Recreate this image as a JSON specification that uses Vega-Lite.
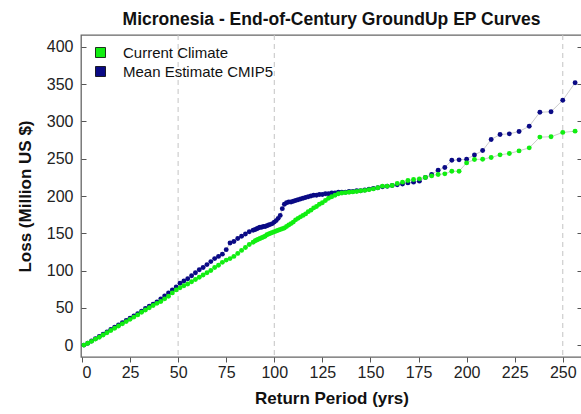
{
  "$schema": "https://vega.github.io/schema/vega-lite/v6.json",
  "width": 501,
  "height": 322,
  "autosize": {"type": "none"},
  "padding": {"left": 81, "top": 35, "right": 0, "bottom": 57},
  "background": "white",
  "title": {"text": "Micronesia - End-of-Century GroundUp EP Curves", "font": "Liberation Sans", "fontSize": 17.5, "fontWeight": "bold", "color": "#111111", "anchor": "middle", "offset": 6},
  "config": {
    "view": {"stroke": "#666666", "strokeWidth": 1.3},
    "font": "Liberation Sans",
    "axis": {"labelFont": "Liberation Sans", "titleFont": "Liberation Sans", "labelColor": "#222222", "titleColor": "#111111", "tickColor": "#555555", "domain": false, "grid": false, "labelFontSize": 16, "titleFontSize": 17, "titleFontWeight": "bold"},
    "axisX": {"tickSize": 5, "labelPadding": 2, "titlePadding": 10},
    "axisY": {"tickSize": -5, "labelPadding": 13, "titlePadding": 12},
    "legend": {"orient": "none", "legendX": 12, "legendY": 10, "padding": 0, "symbolType": "square", "symbolSize": 100, "symbolStrokeColor": "#000000", "symbolStrokeWidth": 0.8, "labelFontSize": 15, "labelFont": "Liberation Sans", "labelColor": "#111111", "labelOffset": 15, "rowPadding": 3}
  },
  "datasets": {
    "gridmarks": [{"rp": 50}, {"rp": 100}, {"rp": 250}],
    "cmip5": [
      {"rp": 1, "loss": 0}, {"rp": 3, "loss": 2.5}, {"rp": 5, "loss": 5.5}, {"rp": 7, "loss": 8.5}, {"rp": 9, "loss": 11.5}, {"rp": 11, "loss": 14.5}, {"rp": 13, "loss": 17.5}, {"rp": 15, "loss": 21}, {"rp": 17, "loss": 24}, {"rp": 19, "loss": 27}, {"rp": 21, "loss": 30}, {"rp": 23, "loss": 33}, {"rp": 25, "loss": 36}, {"rp": 27, "loss": 39}, {"rp": 29, "loss": 42}, {"rp": 31, "loss": 45.5}, {"rp": 33, "loss": 49}, {"rp": 35, "loss": 52}, {"rp": 37, "loss": 55}, {"rp": 39, "loss": 58}, {"rp": 41, "loss": 62}, {"rp": 43, "loss": 66}, {"rp": 45, "loss": 70}, {"rp": 47, "loss": 74}, {"rp": 49, "loss": 78}, {"rp": 51, "loss": 83}, {"rp": 53, "loss": 86}, {"rp": 55, "loss": 89}, {"rp": 57, "loss": 93}, {"rp": 59, "loss": 97}, {"rp": 61, "loss": 101}, {"rp": 63, "loss": 104}, {"rp": 65, "loss": 108}, {"rp": 67, "loss": 112}, {"rp": 69, "loss": 116}, {"rp": 71, "loss": 119}, {"rp": 73, "loss": 122}, {"rp": 75, "loss": 128}, {"rp": 77, "loss": 137}, {"rp": 79, "loss": 139}, {"rp": 81, "loss": 143}, {"rp": 83, "loss": 146}, {"rp": 85, "loss": 149}, {"rp": 87, "loss": 152}, {"rp": 89, "loss": 154},
      {"rp": 90.09, "loss": 155}, {"rp": 90.91, "loss": 156}, {"rp": 91.74, "loss": 157}, {"rp": 92.59, "loss": 158}, {"rp": 93.46, "loss": 158}, {"rp": 94.34, "loss": 159}, {"rp": 95.24, "loss": 159}, {"rp": 96.15, "loss": 160}, {"rp": 97.09, "loss": 161}, {"rp": 98.04, "loss": 162}, {"rp": 99.01, "loss": 163}, {"rp": 100, "loss": 165}, {"rp": 101.01, "loss": 167}, {"rp": 102.04, "loss": 170}, {"rp": 103.09, "loss": 174}, {"rp": 104.17, "loss": 183}, {"rp": 105.26, "loss": 189}, {"rp": 106.38, "loss": 191}, {"rp": 107.53, "loss": 192}, {"rp": 108.7, "loss": 192}, {"rp": 109.89, "loss": 193}, {"rp": 111.11, "loss": 194}, {"rp": 112.36, "loss": 195}, {"rp": 113.64, "loss": 196}, {"rp": 114.94, "loss": 197}, {"rp": 116.28, "loss": 198}, {"rp": 117.65, "loss": 199}, {"rp": 119.05, "loss": 200}, {"rp": 120.48, "loss": 201}, {"rp": 121.95, "loss": 201}, {"rp": 123.46, "loss": 202}, {"rp": 125, "loss": 202}, {"rp": 126.58, "loss": 203}, {"rp": 128.21, "loss": 203}, {"rp": 129.87, "loss": 204}, {"rp": 131.58, "loss": 204}, {"rp": 133.33, "loss": 205}, {"rp": 135.14, "loss": 205}, {"rp": 136.99, "loss": 205}, {"rp": 138.89, "loss": 206}, {"rp": 140.85, "loss": 206}, {"rp": 142.86, "loss": 207}, {"rp": 144.93, "loss": 207}, {"rp": 147.06, "loss": 208}, {"rp": 149.25, "loss": 209}, {"rp": 151.52, "loss": 210}, {"rp": 153.85, "loss": 211},
      {"rp": 156.25, "loss": 212.5}, {"rp": 158.73, "loss": 213}, {"rp": 161.29, "loss": 214}, {"rp": 163.93, "loss": 215}, {"rp": 166.67, "loss": 216}, {"rp": 169.49, "loss": 217.6}, {"rp": 172.41, "loss": 218.6}, {"rp": 175.44, "loss": 219.9}, {"rp": 178.57, "loss": 224.9}, {"rp": 181.82, "loss": 229}, {"rp": 185.19, "loss": 234.6}, {"rp": 188.68, "loss": 238.3}, {"rp": 192.31, "loss": 248}, {"rp": 196.08, "loss": 248.5}, {"rp": 200, "loss": 249.4}, {"rp": 204.08, "loss": 255}, {"rp": 208.33, "loss": 261}, {"rp": 212.77, "loss": 275.8}, {"rp": 217.39, "loss": 282.5}, {"rp": 222.22, "loss": 283.4}, {"rp": 227.27, "loss": 286.5}, {"rp": 232.56, "loss": 293.6}, {"rp": 238.1, "loss": 312.4}, {"rp": 243.9, "loss": 313}, {"rp": 250, "loss": 328.5}, {"rp": 256.41, "loss": 352}
    ],
    "current": [
      {"rp": 1, "loss": 0}, {"rp": 3, "loss": 2.5}, {"rp": 5, "loss": 5}, {"rp": 7, "loss": 8}, {"rp": 9, "loss": 10.5}, {"rp": 11, "loss": 13.5}, {"rp": 13, "loss": 16.5}, {"rp": 15, "loss": 19.5}, {"rp": 17, "loss": 22.5}, {"rp": 19, "loss": 25.5}, {"rp": 21, "loss": 28.5}, {"rp": 23, "loss": 31.5}, {"rp": 25, "loss": 34.5}, {"rp": 27, "loss": 37.5}, {"rp": 29, "loss": 40.5}, {"rp": 31, "loss": 44}, {"rp": 33, "loss": 47}, {"rp": 35, "loss": 50}, {"rp": 37, "loss": 53}, {"rp": 39, "loss": 56}, {"rp": 41, "loss": 58.5}, {"rp": 43, "loss": 62}, {"rp": 45, "loss": 65.5}, {"rp": 47, "loss": 70}, {"rp": 49, "loss": 74}, {"rp": 51, "loss": 77}, {"rp": 53, "loss": 79.5}, {"rp": 55, "loss": 82}, {"rp": 57, "loss": 85}, {"rp": 59, "loss": 88}, {"rp": 61, "loss": 91}, {"rp": 63, "loss": 94}, {"rp": 65, "loss": 97}, {"rp": 67, "loss": 100}, {"rp": 69, "loss": 104}, {"rp": 71, "loss": 107}, {"rp": 73, "loss": 111}, {"rp": 75, "loss": 114}, {"rp": 77, "loss": 116}, {"rp": 79, "loss": 119}, {"rp": 81, "loss": 123}, {"rp": 83, "loss": 127}, {"rp": 85, "loss": 131}, {"rp": 87, "loss": 135}, {"rp": 89, "loss": 138},
      {"rp": 90.09, "loss": 140}, {"rp": 90.91, "loss": 141}, {"rp": 91.74, "loss": 142}, {"rp": 92.59, "loss": 143}, {"rp": 93.46, "loss": 144}, {"rp": 94.34, "loss": 145}, {"rp": 95.24, "loss": 146}, {"rp": 96.15, "loss": 148}, {"rp": 97.09, "loss": 149}, {"rp": 98.04, "loss": 150}, {"rp": 99.01, "loss": 151}, {"rp": 100, "loss": 152}, {"rp": 101.01, "loss": 153}, {"rp": 102.04, "loss": 154}, {"rp": 103.09, "loss": 155}, {"rp": 104.17, "loss": 156}, {"rp": 105.26, "loss": 157}, {"rp": 106.38, "loss": 159}, {"rp": 107.53, "loss": 161}, {"rp": 108.7, "loss": 163}, {"rp": 109.89, "loss": 165}, {"rp": 111.11, "loss": 168}, {"rp": 112.36, "loss": 170}, {"rp": 113.64, "loss": 172}, {"rp": 114.94, "loss": 174}, {"rp": 116.28, "loss": 176}, {"rp": 117.65, "loss": 179}, {"rp": 119.05, "loss": 181}, {"rp": 120.48, "loss": 184}, {"rp": 121.95, "loss": 186}, {"rp": 123.46, "loss": 189}, {"rp": 125, "loss": 191}, {"rp": 126.58, "loss": 194}, {"rp": 128.21, "loss": 197}, {"rp": 129.87, "loss": 199}, {"rp": 131.58, "loss": 201}, {"rp": 133.33, "loss": 203}, {"rp": 135.14, "loss": 204}, {"rp": 136.99, "loss": 204.5}, {"rp": 138.89, "loss": 205}, {"rp": 140.85, "loss": 205.5}, {"rp": 142.86, "loss": 206}, {"rp": 144.93, "loss": 207}, {"rp": 147.06, "loss": 207.5}, {"rp": 149.25, "loss": 208.5}, {"rp": 151.52, "loss": 209.5}, {"rp": 153.85, "loss": 211},
      {"rp": 156.25, "loss": 213.2}, {"rp": 158.73, "loss": 213.2}, {"rp": 161.29, "loss": 214.1}, {"rp": 163.93, "loss": 216.8}, {"rp": 166.67, "loss": 218.6}, {"rp": 169.49, "loss": 220.8}, {"rp": 172.41, "loss": 222.2}, {"rp": 175.44, "loss": 223}, {"rp": 178.57, "loss": 224.9}, {"rp": 181.82, "loss": 227}, {"rp": 185.19, "loss": 228.9}, {"rp": 188.68, "loss": 229.7}, {"rp": 192.31, "loss": 233.3}, {"rp": 196.08, "loss": 233.3}, {"rp": 200, "loss": 244.4}, {"rp": 204.08, "loss": 249}, {"rp": 208.33, "loss": 249.4}, {"rp": 212.77, "loss": 251.7}, {"rp": 217.39, "loss": 255.2}, {"rp": 222.22, "loss": 257}, {"rp": 227.27, "loss": 260.5}, {"rp": 232.56, "loss": 264.6}, {"rp": 238.1, "loss": 279}, {"rp": 243.9, "loss": 279.5}, {"rp": 250, "loss": 285.3}, {"rp": 256.41, "loss": 287}
    ]
  },
  "resolve": {"axis": {"y": "independent"}},
  "layer": [
    {
      "layer": [
        {
          "data": {"name": "gridmarks"},
          "mark": {"type": "rule", "color": "#c4c4c4", "strokeDash": [5, 4], "strokeWidth": 1},
          "encoding": {
            "x": {"field": "rp", "type": "quantitative", "title": "Return Period (yrs)", "scale": {"domain": [-0.5, 260], "nice": false, "zero": false}, "axis": {"values": [0, 25, 50, 75, 100, 125, 150, 175, 200, 225, 250]}}
          }
        },
        {
          "data": {"name": "cmip5"},
          "mark": {"type": "line", "color": "#cccccc", "strokeWidth": 1},
          "encoding": {
            "x": {"field": "rp", "type": "quantitative", "title": "Return Period (yrs)"},
            "y": {"field": "loss", "type": "quantitative", "title": "Loss (Million US $)", "scale": {"domain": [-16, 416], "nice": false, "zero": false}, "axis": {"values": [0, 50, 100, 150, 200, 250, 300, 350, 400]}}
          }
        },
        {
          "data": {"name": "current"},
          "mark": {"type": "line", "color": "#cccccc", "strokeWidth": 1},
          "encoding": {
            "x": {"field": "rp", "type": "quantitative", "title": "Return Period (yrs)"},
            "y": {"field": "loss", "type": "quantitative", "title": "Loss (Million US $)"}
          }
        },
        {
          "data": {"name": "cmip5"},
          "mark": {"type": "circle", "size": 24, "opacity": 1},
          "encoding": {
            "x": {"field": "rp", "type": "quantitative", "title": "Return Period (yrs)"},
            "y": {"field": "loss", "type": "quantitative", "title": "Loss (Million US $)"},
            "color": {"datum": "Mean Estimate CMIP5", "scale": {"domain": ["Current Climate", "Mean Estimate CMIP5"], "range": ["#11ee11", "#0a0a85"]}, "legend": {"title": null, "symbolType": "square"}}
          }
        },
        {
          "data": {"name": "current"},
          "mark": {"type": "circle", "size": 24, "opacity": 1},
          "encoding": {
            "x": {"field": "rp", "type": "quantitative", "title": "Return Period (yrs)"},
            "y": {"field": "loss", "type": "quantitative", "title": "Loss (Million US $)"},
            "color": {"datum": "Current Climate", "legend": {"title": null, "symbolType": "square"}}
          }
        }
      ]
    },
    {
      "data": {"name": "current"},
      "mark": {"type": "point", "opacity": 0},
      "encoding": {
        "x": {"field": "rp", "type": "quantitative", "title": "Return Period (yrs)"},
        "y": {"field": "loss", "type": "quantitative", "axis": {"orient": "right", "title": null, "labels": false, "domain": false, "tickSize": -5, "values": [0, 50, 100, 150, 200, 250, 300, 350, 400]}}
      }
    }
  ]
}
